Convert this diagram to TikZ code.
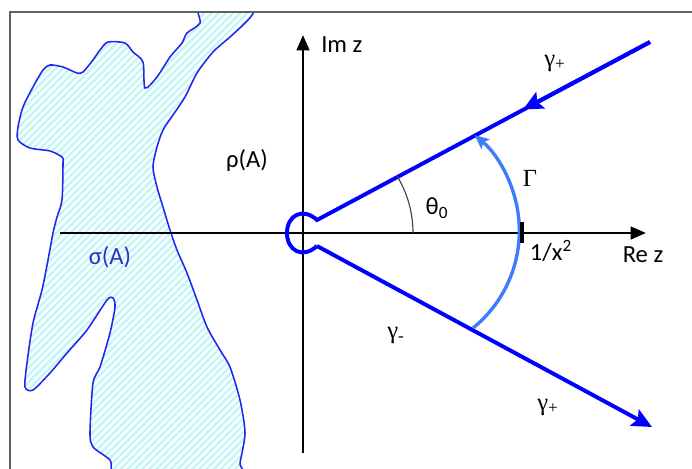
\documentclass[tikz,border=0pt]{standalone}
\usepackage{fontspec}
\setmainfont{Carlito}
\newfontfamily\greekserif{Liberation Serif}
\usetikzlibrary{arrows.meta,patterns.meta}
\definecolor{rayblue}{HTML}{0000FF}
\definecolor{arcblue}{HTML}{3C7CFF}
\definecolor{specfill}{HTML}{C4F6F8}
\definecolor{specline}{HTML}{2424F0}
\definecolor{spectext}{HTML}{3030C8}
\definecolor{framegray}{HTML}{606060}

\begin{document}
\begin{tikzpicture}[x=0.025cm,y=-0.025cm,
  axis/.style={line width=1.9pt,-{Triangle[length=11pt,width=9pt]}},
  ray/.style={draw=rayblue,line width=2.8pt},
  raytip/.style={-{Stealth[length=14pt,width=13pt,inset=2.5pt]}},
  lbl/.style={font=\fontsize{17.5}{20}\selectfont,inner sep=0pt}]
\useasboundingbox (0,0) rectangle (692,468);
% spectrum sigma(A)
\begin{scope}
\clip (10,12) rectangle (692,468);
\draw[specline,line width=1.1pt,pattern={Lines[angle=45,distance=3.6pt,line width=1.8pt]},pattern color=specfill]
  plot[smooth cycle,tension=0.45] coordinates {(200,4) (200,23) (187,33) (182,43) (170,57) (157,77) (145,88)
  (143,62) (133,52) (125,43) (108,42) (100,50) (93,60) (83,72) (77,73) (63,67) (50,65) (43,70) (33,87)
  (23,107) (18,127) (18,140) (30,148) (50,151) (62,157) (63,163) (62,200) (57,217) (53,233) (48,260)
  (42,290) (33,323) (27,363) (25,387) (33,390) (50,373) (67,353) (87,330) (107,300) (113,298) (115,307)
  (110,333) (100,367) (93,383) (90,433) (93,447) (110,460) (122,478) (238,478) (240,463) (245,433)
  (240,400) (230,367) (220,350) (207,327) (197,300) (187,273) (177,250) (170,230) (163,207) (157,187)
  (153,167) (157,147) (163,130) (173,115) (185,97) (197,73) (213,52) (230,37) (243,25) (252,15) (254,4)};
\end{scope}
\draw[framegray,line width=1.4pt] (10,470) -- (10,12) -- (694,12);
% axes
\coordinate (O) at (303,233);
\coordinate (xstart) at (60,233);
\coordinate (xend) at (646,233);
\coordinate (ystart) at (303,453);
\coordinate (yend) at (303,35);
\draw[axis] (xstart) -- (xend);
\draw[axis] (ystart) -- (yend);
\node[lbl,anchor=west] (imz) at (321,45) {Im z};
\node[lbl] (rez) at (643,255) {Re z};
% contour
\coordinate (upFar) at (650,42);
\coordinate (upMid) at (523,109.5);
\coordinate (upNear) at (317,220);
\coordinate (loNear) at (317,246);
\coordinate (loFar) at (652,427);
\draw[ray] (upFar) -- (upNear) .. controls (303,207) and (287,215) .. (287,233)
  .. controls (287,251) and (303,259) .. (loNear);
\draw[ray,raytip] (upFar) -- (upMid);
\draw[ray,raytip] (loNear) -- (loFar);
% circle arc Gamma
\coordinate (gLow) at (473,328);
\draw[arcblue,line width=2.4pt,-{Stealth[length=10pt,width=9pt,inset=2pt]}] (gLow) arc[start angle=51,end angle=-50,radius=125];
\coordinate (tick) at (522,233);
\draw[line width=2.6pt] (522,222) -- (522,243);
\node[lbl] (xinv) at (551,251) {1/x\textsuperscript{2}};
% angle theta0
\coordinate (thStart) at (413,233);
\draw[black!75,line width=0.8pt] (thStart) arc[start angle=0,end angle=-31,radius=110];
\node[lbl] (theta) at (437,208) {θ\textsubscript{0}};
\node[lbl] (gam) at (530,178) {\greekserif Γ};
\node[lbl] (gpTop) at (555,63) {\greekserif γ\textsubscript{+}};
\node[lbl] (gm) at (396,335) {\greekserif γ\textsubscript{-}};
\node[lbl] (gpBot) at (548,407) {\greekserif γ\textsubscript{+}};
\node[lbl] (rho) at (247,160) {ρ(A)};
\node[lbl,text=spectext] (sigma) at (110,257) {σ(A)};
\end{tikzpicture}
\end{document}
